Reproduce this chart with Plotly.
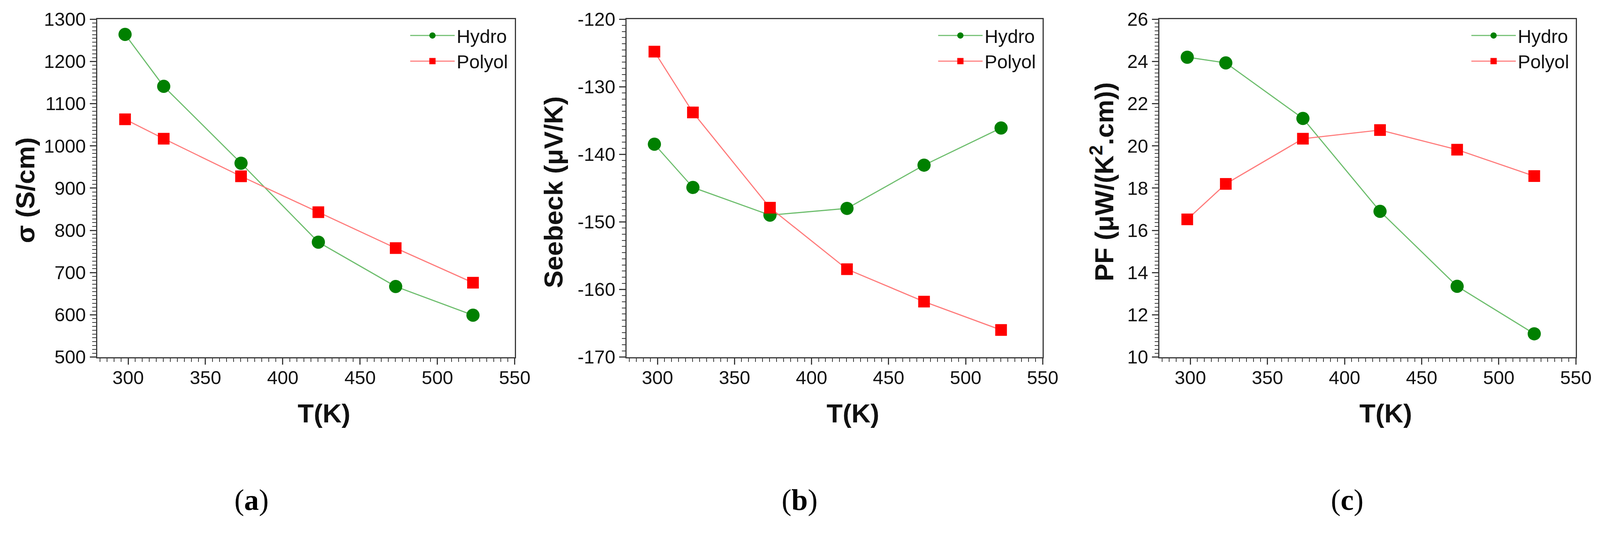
"""Electrical conductivity, Seebeck coefficient and power factor vs temperature."""
import plotly.graph_objects as go

# Target picture size, and the page the figure sits in (8 px body margin,
# 4096 px wide viewport that gets scaled up to 4246 when photographed).
REF_W, REF_H = 4246, 1396
SCALE = REF_W / 4096
BODY_MARGIN = 8
FIG_W, FIG_H = 4080, 1331

SANS = "Arial, Liberation Sans, sans-serif"
SERIF = "Liberation Serif, Times New Roman, serif"
AXIS_COLOR = "#3a3a3a"

temperature = [298, 323, 373, 423, 473, 523]

sigma_hydro = [1264, 1141, 959, 772, 667, 599]
sigma_polyol = [1063, 1017, 928, 843, 758, 676]

seebeck_hydro = [-138.5, -144.9, -149.0, -148.0, -141.6, -136.1]
seebeck_polyol = [-124.8, -133.8, -147.9, -157.0, -161.8, -166.0]

pf_hydro = [24.2, 23.93, 21.3, 16.9, 13.35, 11.1]
pf_polyol = [16.52, 18.2, 20.34, 20.75, 19.82, 18.57]

series_names = ["Hydro", "Polyol"]

# Axes.
x_range = [280, 550]
x_ticks = [300, 350, 400, 450, 500, 550]
sigma_ticks = [500, 600, 700, 800, 900, 1000, 1100, 1200, 1300]
seebeck_ticks = [-170, -160, -150, -140, -130, -120]
seebeck_tick_labels = ["-170", "-160", "-150", "-140", "-130", "-120"]
pf_ticks = [10, 12, 14, 16, 18, 20, 22, 24, 26]

y_titles = ["σ (S/cm)", "Seebeck (μV/K)", "PF (μW/(K<sup>2</sup>.cm))"]
x_title = "T(K)"
captions = ["a", "b", "c"]

# Panel boxes in reference pixels: plot area left/right, y-title and caption positions.
panels = [
    {"left": 258, "right": 1366, "ytitle_x": 67, "ytitle_y": 505, "caption_x": 668},
    {"left": 1663, "right": 2767, "ytitle_x": 1469, "ytitle_y": 510, "caption_x": 2122},
    {"left": 3077, "right": 4182, "ytitle_x": 2925, "ytitle_y": 483, "caption_x": 3575},
]
PLOT_TOP, PLOT_BOTTOM = 51, 948


def px(x):
    """Reference pixel column -> paper x."""
    return (x / SCALE - BODY_MARGIN) / FIG_W


def py(y):
    """Reference pixel row -> paper y."""
    return 1 - (y / SCALE - BODY_MARGIN) / FIG_H


def sz(v):
    """Reference pixel size -> figure pixel size."""
    return v / SCALE


def axis_style(**extra):
    style = dict(showline=True, linecolor=AXIS_COLOR, linewidth=sz(3), mirror=True,
                 ticks="outside", ticklen=sz(17), tickwidth=sz(3), tickcolor=AXIS_COLOR,
                 showgrid=False, zeroline=False, fixedrange=True, automargin=False,
                 tickfont=dict(family=SANS, size=sz(50), color="#111111"))
    style.update(extra)
    return style


def minor(tick0, major_step):
    # Origin style: 10 minor ticks between majors.
    return dict(ticks="outside", ticklen=sz(10), tickwidth=sz(2.5), tickcolor=AXIS_COLOR,
                tickmode="linear", tick0=tick0, dtick=major_step / 11, showgrid=False)


fig = go.Figure()

data = [(sigma_hydro, sigma_polyol), (seebeck_hydro, seebeck_polyol), (pf_hydro, pf_polyol)]
y_ticks = [sigma_ticks, seebeck_ticks, pf_ticks]
y_tick_text = [[str(t) for t in sigma_ticks], seebeck_tick_labels, [str(t) for t in pf_ticks]]

for i, ((hydro, polyol), panel) in enumerate(zip(data, panels), start=1):
    suffix = "" if i == 1 else str(i)
    legend_id = "legend" + suffix
    fig.add_trace(go.Scatter(x=temperature, y=hydro, name=series_names[0], mode="lines+markers",
                             line=dict(color="#6cbd6c", width=sz(3)),
                             marker=dict(symbol="circle", size=sz(35), color="#008000"),
                             xaxis="x" + suffix, yaxis="y" + suffix, legend=legend_id))
    fig.add_trace(go.Scatter(x=temperature, y=polyol, name=series_names[1], mode="lines+markers",
                             line=dict(color="#ff7a7a", width=sz(3)),
                             marker=dict(symbol="square", size=sz(31), color="#ff0000"),
                             xaxis="x" + suffix, yaxis="y" + suffix, legend=legend_id))

    ticks = y_ticks[i - 1]
    fig.update_layout({
        "xaxis" + suffix: axis_style(domain=[px(panel["left"]), px(panel["right"])], range=x_range,
                                     tickmode="array", tickvals=x_ticks, ticklabelstandoff=-8,
                                     minor=minor(300, 50), anchor="y" + suffix),
        "yaxis" + suffix: axis_style(domain=[py(PLOT_BOTTOM), py(PLOT_TOP)], range=[ticks[0], ticks[-1]],
                                     tickmode="array", tickvals=ticks, ticktext=y_tick_text[i - 1],
                                     minor=minor(ticks[0], ticks[1] - ticks[0]), anchor="x" + suffix),
        legend_id: dict(x=px(panel["right"] - 12), xanchor="right", y=py(55), yanchor="top",
                        bgcolor="rgba(0,0,0,0)", itemwidth=sz(118), tracegroupgap=0,
                        font=dict(family=SANS, size=sz(50), color="#111111")),
    })

    # Axis titles and panel captions.
    fig.add_annotation(text=f"<b>{y_titles[i - 1]}</b>", textangle=-90, showarrow=False,
                       xref="paper", yref="paper", x=px(panel["ytitle_x"]), y=py(panel["ytitle_y"]),
                       xanchor="center", yanchor="middle",
                       font=dict(family=SANS, size=sz(70), color="#111111"))
    center = (panel["left"] + panel["right"]) / 2 + 48
    fig.add_annotation(text=f"<b>{x_title}</b>", showarrow=False, xref="paper", yref="paper",
                       x=px(center), y=py(1097), xanchor="center", yanchor="middle",
                       font=dict(family=SANS, size=sz(70), color="#111111"))
    fig.add_annotation(text=f"(<b>{captions[i - 1]}</b>)", showarrow=False, xref="paper", yref="paper",
                       x=px(panel["caption_x"]), y=py(1328), xanchor="center", yanchor="middle",
                       font=dict(family=SERIF, size=sz(78), color="#000000"))

fig.update_layout(width=FIG_W, height=FIG_H, margin=dict(l=0, r=0, t=0, b=0),
                  plot_bgcolor="white", paper_bgcolor="white", showlegend=True)

fig.write_html("out.html")
